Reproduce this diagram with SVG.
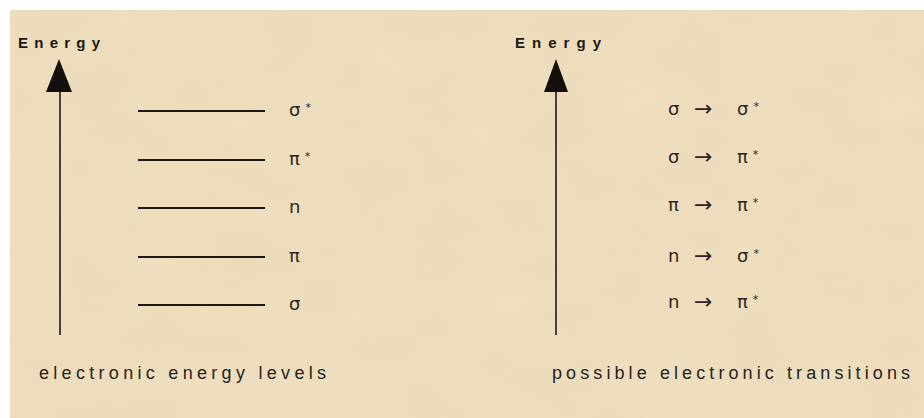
<svg xmlns="http://www.w3.org/2000/svg" width="924" height="418" viewBox="0 0 924 418">
<style>
.axis{font-family:"Liberation Sans",Arial,sans-serif;font-weight:bold;font-size:15px;fill:#1a1715}
.cap{font-family:"Liberation Sans",Arial,sans-serif;font-size:18px;fill:#26221e}
.sym{font-family:"DejaVu Sans","Liberation Sans",sans-serif;font-size:18px;fill:#2a2520}
.arr{font-size:22px}
.star{font-size:11px}
.lvl{stroke:#1c1916;stroke-width:2}
.ax{stroke:#1c1916;stroke-width:1.6}
.head{fill:#120f0d}
</style>
<defs>
<filter id="paper" x="0" y="0" width="100%" height="100%">
<feTurbulence type="fractalNoise" baseFrequency="0.015 0.025" numOctaves="3" seed="4" result="n"/>
<feColorMatrix in="n" type="matrix" values="0 0 0 0 0.88  0 0 0 0 0.76  0 0 0 0 0.55  0 0 0 0.6 -0.1" result="c"/>
<feComposite in="c" in2="SourceGraphic" operator="in"/>
</filter>
</defs>
<rect width="924" height="418" fill="#ffffff"/>
<rect x="10" y="10" width="914" height="408" fill="#eddcbb"/>
<rect x="10" y="10" width="914" height="408" fill="#eddcbb" filter="url(#paper)"/>

<g id="left-axis">
<line class="ax" x1="60" y1="88" x2="60" y2="335"/>
<polygon class="head" points="59,59 72,92 46,92"/>
<text class="axis" x="18" y="48" textLength="82" lengthAdjust="spacing">Energy</text>
</g>

<g id="levels">
<g id="level-sigma-star"><line class="lvl" x1="138" y1="111" x2="265" y2="111"/><text class="sym" x="289" y="116">σ<tspan class="star" dx="5" dy="-5">*</tspan></text></g>
<g id="level-pi-star"><line class="lvl" x1="138" y1="160" x2="265" y2="160"/><text class="sym" x="289" y="165">π<tspan class="star" dx="5" dy="-5">*</tspan></text></g>
<g id="level-n"><line class="lvl" x1="138" y1="208" x2="265" y2="208"/><text class="sym" x="289" y="213">n</text></g>
<g id="level-pi"><line class="lvl" x1="138" y1="257" x2="265" y2="257"/><text class="sym" x="289" y="262">π</text></g>
<g id="level-sigma"><line class="lvl" x1="138" y1="305" x2="265" y2="305"/><text class="sym" x="289" y="310">σ</text></g>
</g>

<g id="right-axis">
<line class="ax" x1="556" y1="88" x2="556" y2="335"/>
<polygon class="head" points="556,59 568,92 544,92"/>
<text class="axis" x="515" y="48" textLength="86" lengthAdjust="spacing">Energy</text>
</g>

<g id="transitions">
<g id="t1"><text class="sym" y="115"><tspan x="668">σ</tspan><tspan class="arr" x="694" dy="1">→</tspan><tspan x="737" dy="-1">σ</tspan><tspan class="star" dx="5" dy="-5">*</tspan></text></g>
<g id="t2"><text class="sym" y="163"><tspan x="668">σ</tspan><tspan class="arr" x="694" dy="1">→</tspan><tspan x="737" dy="-1">π</tspan><tspan class="star" dx="5" dy="-5">*</tspan></text></g>
<g id="t3"><text class="sym" y="211"><tspan x="668">π</tspan><tspan class="arr" x="694" dy="1">→</tspan><tspan x="737" dy="-1">π</tspan><tspan class="star" dx="5" dy="-5">*</tspan></text></g>
<g id="t4"><text class="sym" y="262"><tspan x="668">n</tspan><tspan class="arr" x="694" dy="1">→</tspan><tspan x="737" dy="-1">σ</tspan><tspan class="star" dx="5" dy="-5">*</tspan></text></g>
<g id="t5"><text class="sym" y="308"><tspan x="668">n</tspan><tspan class="arr" x="694" dy="1">→</tspan><tspan x="737" dy="-1">π</tspan><tspan class="star" dx="5" dy="-5">*</tspan></text></g>
</g>

<g id="captions">
<text class="cap" x="39" y="379" textLength="287" lengthAdjust="spacing">electronic energy levels</text>
<text class="cap" x="552" y="379" textLength="358" lengthAdjust="spacing">possible electronic transitions</text>
</g>
</svg>
